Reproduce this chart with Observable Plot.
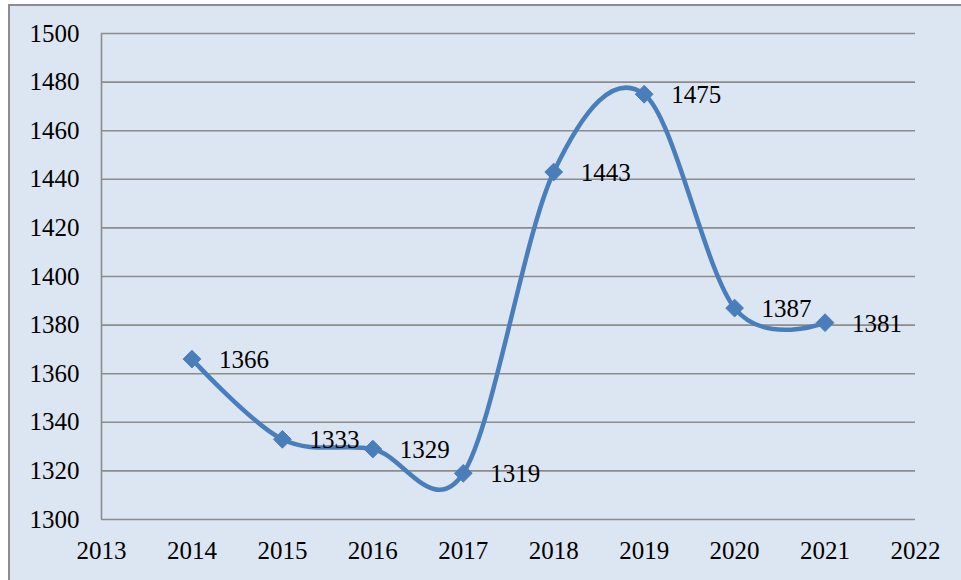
<!DOCTYPE html>
<html>
<head>
<meta charset="utf-8">
<script src="https://cdn.jsdelivr.net/npm/d3@7"></script>
<script src="https://cdn.jsdelivr.net/npm/@observablehq/plot@0.6"></script>
<style>
  html, body { margin: 0; padding: 0; background: #ffffff; }
  #wrap { position: relative; width: 961px; height: 580px; overflow: hidden; }
  #bg { position: absolute; left: 8px; top: 4px; right: -4px; bottom: -4px;
        background: #dce6f2; border: 2px solid #8c8c8c; }
  #chart { position: absolute; left: 0; top: 0; }
  #chart svg { background: transparent; }
</style>
</head>
<body>
<div id="wrap"><div id="bg"></div><div id="chart"></div></div>
<script>
const years = [2014, 2015, 2016, 2017, 2018, 2019, 2020, 2021];
const values = [1366, 1333, 1329, 1319, 1443, 1475, 1387, 1381];
const xTicks = [2013, 2014, 2015, 2016, 2017, 2018, 2019, 2020, 2021, 2022];
const yTicks = [1300, 1320, 1340, 1360, 1380, 1400, 1420, 1440, 1460, 1480, 1500];

const data = years.map((y, i) => ({year: y, value: values[i]}));
const font = "'Liberation Serif', 'Times New Roman', serif";
const lineColor = "#4a7ebb";
const gridColor = "#8c8c8c";

const chart = Plot.plot({
  width: 961,
  height: 580,
  marginLeft: 101,
  marginRight: 46,
  marginTop: 33,
  marginBottom: 61,
  style: {background: "transparent", fontFamily: font, color: "#000"},
  x: {domain: [2013, 2022]},
  y: {domain: [1300, 1500]},
  marks: [
    Plot.gridY(yTicks, {stroke: gridColor, strokeOpacity: 1, strokeWidth: 1.6}),
    Plot.ruleX([2013], {stroke: gridColor, strokeWidth: 1.6}),
    Plot.axisY(yTicks, {tickSize: 0, tickPadding: 22, fontSize: 25, fontFamily: font, fill: "#000", tickFormat: "d", label: null}),
    Plot.axisX(xTicks, {tickSize: 0, tickPadding: 22, fontSize: 25, fontFamily: font, fill: "#000", tickFormat: "d", label: null}),
    Plot.line(data, {x: "year", y: "value", curve: "cardinal", tension: 0, stroke: lineColor, strokeWidth: 4.5}),
    Plot.dot(data, {x: "year", y: "value", symbol: "diamond2", r: 8, fill: lineColor, stroke: lineColor, strokeWidth: 1}),
    Plot.text(data, {x: "year", y: "value", text: d => String(d.value), dx: 27, dy: 1, textAnchor: "start", fontSize: 25, fontFamily: font, fill: "#000"})
  ]
});
document.getElementById("chart").appendChild(chart);
</script>
</body>
</html>
